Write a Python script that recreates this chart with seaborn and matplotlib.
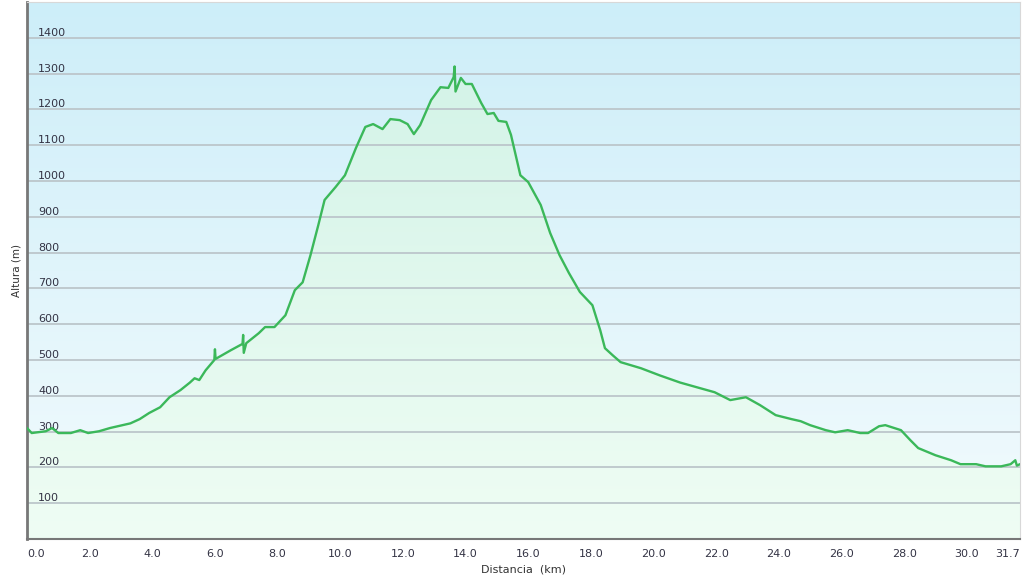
import numpy as np
import pandas as pd
import matplotlib
matplotlib.use("Agg")
import matplotlib.pyplot as plt
import seaborn as sns
from matplotlib.colors import LinearSegmentedColormap

sns.set_style("white")
plt.rcParams["font.family"] = ["DejaVu Sans"]

# elevation profile (km, m)
dist_km = [0.0, 0.15, 0.6, 0.8, 1.0, 1.4, 1.7, 1.95, 2.3, 2.65, 3.3, 3.6, 3.9,
           4.25, 4.55, 4.9, 5.2, 5.35, 5.5, 5.7, 5.98, 6.0, 6.02, 6.5, 6.88, 6.9,
           6.92, 7.0, 7.4, 7.6, 7.9, 8.25, 8.55, 8.8, 9.05, 9.3, 9.5, 9.85, 10.15,
           10.5, 10.8, 11.05, 11.35, 11.6, 11.9, 12.15, 12.35, 12.55, 12.9, 13.2,
           13.45, 13.62, 13.65, 13.68, 13.85, 14.0, 14.2, 14.5, 14.7, 14.9, 15.05,
           15.3, 15.45, 15.75, 16.0, 16.4, 16.7, 17.0, 17.3, 17.65, 18.05, 18.3,
           18.45, 18.7, 18.95, 19.6, 20.2, 20.85, 21.5, 21.95, 22.45, 22.95, 23.4,
           23.9, 24.4, 24.7, 25.0, 25.5, 25.8, 26.2, 26.6, 26.85, 27.2, 27.4, 27.9,
           28.2, 28.45, 29.0, 29.5, 29.8, 30.3, 30.6, 31.1, 31.4, 31.55, 31.6, 31.7]
altura_m = [310, 296, 301, 310, 296, 296, 304, 296, 301, 310, 323, 335, 352,
            368, 396, 416, 437, 449, 444, 471, 500, 530, 503, 527, 545, 570,
            520, 547, 575, 592, 592, 625, 695, 717, 793, 877, 947, 983, 1016,
            1092, 1151, 1159, 1145, 1173, 1170, 1159, 1131, 1156, 1226, 1262,
            1260, 1290, 1320, 1250, 1288, 1271, 1271, 1218, 1187, 1190, 1168,
            1165, 1129, 1016, 997, 933, 855, 793, 743, 690, 653, 583,
            533, 513, 494, 477, 457, 437, 421, 410, 388, 396, 374,
            346, 335, 329, 318, 304, 298, 304, 296, 296, 315, 318, 304,
            276, 254, 234, 220, 209, 209, 203, 203, 209, 220, 205, 209]

x_ticks = [0, 2, 4, 6, 8, 10, 12, 14, 16, 18, 20, 22, 24, 26, 28, 30, 31.7]
x_labels = ["0.0", "2.0", "4.0", "6.0", "8.0", "10.0", "12.0", "14.0", "16.0",
            "18.0", "20.0", "22.0", "24.0", "26.0", "28.0", "30.0", "31.7"]
y_ticks = list(range(100, 1500, 100))

df = pd.DataFrame({"dist": dist_km, "alt": altura_m})

fig = plt.figure(figsize=(10.23, 5.77), dpi=100)
ax = fig.add_axes([27 / 1023, 38 / 577, 993 / 1023, 537 / 577])
ax.set_axisbelow(False)
xmax, ymax = 31.7, 1500
ax.set_xlim(0, xmax)
ax.set_ylim(0, ymax)

# background gradient (light blue top -> almost white bottom)
bg = LinearSegmentedColormap.from_list("bg", ["#f3fbfd", "#cdeef9"])
grad = np.linspace(0, 1, 256).reshape(-1, 1)
ax.imshow(grad, cmap=bg, origin="lower", aspect="auto",
          extent=[0, xmax, 0, ymax], zorder=0)

# green gradient under the curve
fill = ax.fill_between(df["dist"], df["alt"], 0, color="none", zorder=1)
fg = LinearSegmentedColormap.from_list("fg", ["#effdf4", "#d0f2e6"])
im = ax.imshow(grad, cmap=fg, origin="lower", aspect="auto",
               extent=[0, xmax, 0, ymax], zorder=1)
im.set_clip_path(fill.get_paths()[0], transform=ax.transData)

for v in y_ticks:
    ax.axhline(v, color="#bcc6cb", lw=1.3, zorder=2)

sns.lineplot(data=df, x="dist", y="alt", color="#3bb85a", lw=1.7,
             ax=ax, zorder=3)

ax.set_xticks(x_ticks)
ax.set_xticklabels(x_labels)
ax.set_yticks(y_ticks)
ax.set_yticklabels([str(v) for v in y_ticks])
ax.tick_params(axis="x", direction="out", length=5, width=1, color="#555555",
               labelsize=8, labelcolor="#333344", pad=2)
ax.tick_params(axis="y", length=0, pad=-8, labelsize=8, labelcolor="#333344")
for lab in ax.get_yticklabels():
    lab.set_horizontalalignment("left")
    lab.set_verticalalignment("bottom")
xl = ax.get_xticklabels()
xl[0].set_horizontalalignment("left")
xl[-1].set_horizontalalignment("right")

ax.set_xlabel("Distancia  (km)", fontsize=8, color="#333333", labelpad=4)
ax.set_ylabel("Altura (m)", fontsize=7.5, color="#333333", labelpad=4)

ax.spines["left"].set_color("#777777")
ax.spines["left"].set_linewidth(2)
ax.spines["bottom"].set_color("#777777")
ax.spines["bottom"].set_linewidth(1.5)
ax.spines["top"].set_color("#d8d8d8")
ax.spines["right"].set_color("#d8d8d8")
ax.grid(False)

fig.savefig("out.png", dpi=100)
